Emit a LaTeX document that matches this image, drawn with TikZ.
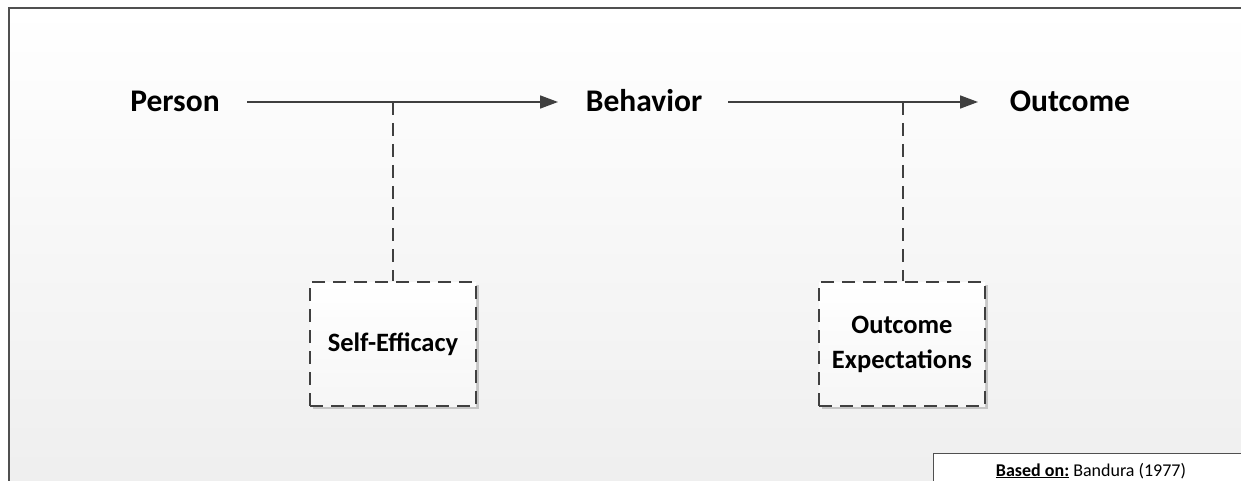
\documentclass[tikz,border=0pt]{standalone}
\usepackage{fontspec}
\setmainfont{Carlito}
\usetikzlibrary{arrows.meta,shadows}

\definecolor{linegray}{HTML}{404040}
\definecolor{framegray}{HTML}{505050}
\definecolor{bgbottom}{HTML}{EEEEEE}

\tikzset{
  concept/.style={font=\fontsize{31.5}{36}\selectfont\bfseries, inner sep=0pt, anchor=base},
  arrowline/.style={draw=linegray, line width=1.6pt, -{Triangle[length=18pt,width=13pt]}},
  dashline/.style={draw=linegray, line width=1.6pt, dash pattern=on 13pt off 8pt},
  factorbox/.style={draw=linegray, line width=1.4pt, dash pattern=on 13pt off 8pt,
    minimum width=166pt, minimum height=124pt, inner sep=0pt, align=center,
    top color=white, bottom color=gray!7,
    font=\fontsize{26.5}{35}\selectfont\bfseries,
    drop shadow={shadow xshift=2.5pt, shadow yshift=-2.5pt, opacity=0.18, fill=black}},
  sourcebox/.style={draw=framegray, line width=1pt, fill=white}
}

\begin{document}
\begin{tikzpicture}[x=1pt, y=-1pt]
  \useasboundingbox (0,0) rectangle (1241,481);
  \clip (0,0) rectangle (1241,481);

  % panel background and frame
  \shade[top color=white, bottom color=bgbottom] (9,8) rectangle (1260,500);
  \draw[framegray, line width=2pt] (9,500) -- (9,8) -- (1260,8);

  % main chain
  \node[concept] (person) at (175,112) {Person};
  \node[concept] (behavior) at (644,112) {Behavior};
  \node[concept] (outcome) at (1070,112) {Outcome};

  \coordinate (a1s) at (247,102);
  \coordinate (a1e) at (558,102);
  \coordinate (a2s) at (728,102);
  \coordinate (a2e) at (978,102);
  \draw[arrowline] (a1s) -- (a1e);
  \draw[arrowline] (a2s) -- (a2e);

  % expectation boxes
  \node[factorbox] (selfeff) at (393,344) {Self-Efficacy};
  \node[factorbox] (outexp) at (902,344) {Outcome\\Expectations};

  \coordinate (j1) at (393,102);
  \coordinate (j2) at (903,102);
  \draw[dashline] (j1) -- (selfeff.north);
  \draw[dashline] (j2) -- (outexp.north -| j2);

  % source note
  \draw[sourcebox] (933,453) rectangle (1260,500);
  \node[font=\fontsize{18}{20}\selectfont, anchor=base, inner sep=0pt] (source) at (1091,476)
    {\underline{\textbf{Based on:}} Bandura (1977)};
\end{tikzpicture}
\end{document}
